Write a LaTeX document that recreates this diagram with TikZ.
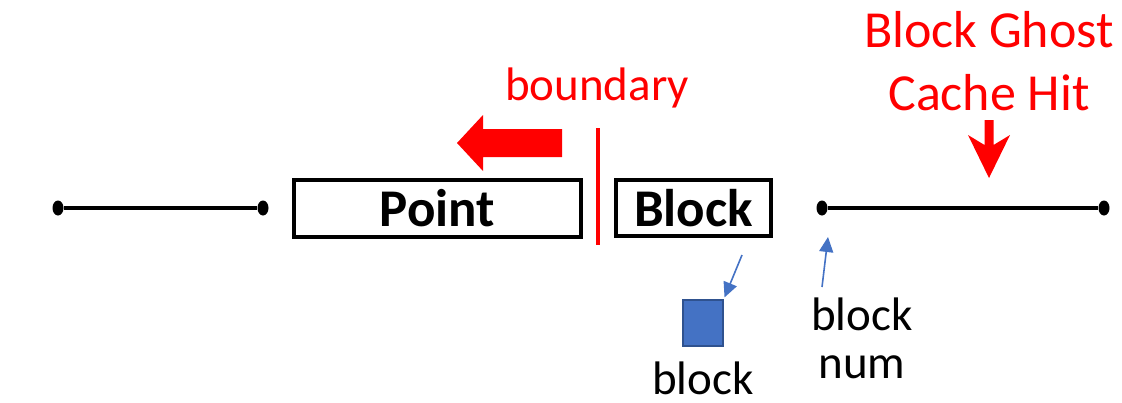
\documentclass[tikz,border=0pt]{standalone}
\usepackage{fontspec}
\setmainfont{Carlito}
\usetikzlibrary{positioning, shapes.geometric, arrows.meta}
\definecolor{hitred}{HTML}{FF0000}
\definecolor{blkblue}{HTML}{4472C4}
\definecolor{blkedge}{HTML}{2F528F}

\begin{document}
\begin{tikzpicture}[
    x=0.5pt, y=-0.5pt,
    seg/.style={line width=2.2pt},
    dot/.style={ellipse, fill=black, inner sep=0pt, minimum width=5.5pt, minimum height=7.5pt},
    region/.style={rectangle, draw, line width=2.2pt, inner sep=0pt, font=\fontsize{26.5}{31}\selectfont\bfseries},
    txt/.style={inner sep=0pt, font=\fontsize{23.5}{24}\selectfont},
    redtxt/.style={txt, text=hitred},
    pointer/.style={-{Triangle[length=7.5pt, width=7pt]}, blkblue, line width=0.8pt}
]
    \useasboundingbox (0,0) rectangle (1122,402);

    % the two open segments
    \node[dot] (l0) at (58,208) {};
    \node[dot] (l1) at (263,208) {};
    \node[dot] (r0) at (822,208) {};
    \node[dot] (r1) at (1104,208) {};
    \draw[seg] (l0) -- (l1);
    \draw[seg] (r0) -- (r1);

    % point and block regions
    \node[region, minimum width=143.5pt, minimum height=28.5pt] (point) at (437.5,208.5) {Point};
    \node[region, minimum width=77.5pt, minimum height=28pt] (block) at (693.5,208) {Block};

    % boundary marker and its shift
    \coordinate (bndTop) at (598,128);
    \coordinate (bndBot) at (598,245);
    \draw[hitred, line width=2pt] (bndTop) -- (bndBot);
    \node[redtxt] (bnd) at (597,88) {boundary};
    \fill[hitred] (562,129) -- (483,129) -- (483,115) -- (457,143)
        -- (483,171) -- (483,157) -- (562,157) -- cycle;

    % ghost cache hit
    \node[redtxt, font=\fontsize{26}{31.5}\selectfont, align=center] (ghost) at (989,61) {Block Ghost\\Cache Hit};
    \fill[hitred] (993.5,120) -- (993.5,145) -- (1010,135) -- (989,178)
        -- (968,135) -- (984.5,145) -- (984.5,120) -- cycle;

    % block and block num
    \node[draw=blkedge, fill=blkblue, line width=0.75pt, minimum width=20pt, minimum height=23pt] (blk) at (703,323) {};
    \node[txt] (blkname) at (703,378) {block};
    \node[txt, align=center] (bnum) at (862,338) {block\\num};
    \coordinate (blkFrom) at (742,255);
    \coordinate (numFrom) at (822,287);
    \coordinate (numTo) at (828,237);
    \draw[pointer, shorten >=1pt] (blkFrom) -- (blk.north east);
    \draw[pointer] (numFrom) -- (numTo);
\end{tikzpicture}
\end{document}
